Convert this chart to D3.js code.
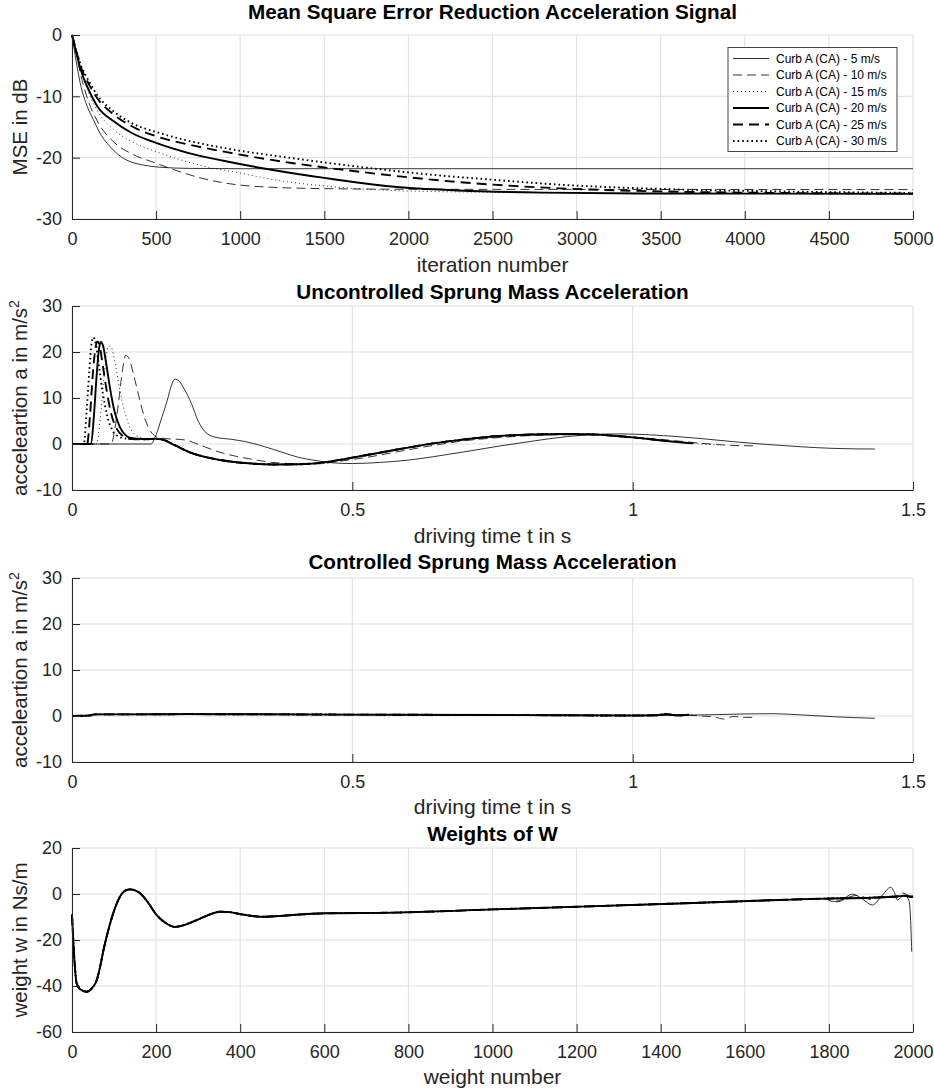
<!DOCTYPE html>
<html>
<head>
<meta charset="utf-8">
<script src="https://cdn.jsdelivr.net/npm/d3@7"></script>
<style>
  html, body { margin: 0; padding: 0; background: #fff; }
  svg { display: block; font-family: "Liberation Sans", Arial, Helvetica, sans-serif; }
</style>
</head>
<body>
<svg id="chart" width="934" height="1088"></svg>
<script>
// ---- series metadata ----
const speeds = [5, 10, 15, 20, 25, 30];
const seriesNames = speeds.map(s => `Curb A (CA) - ${s} m/s`);

// ---- MSE curves [iteration, dB] ----
const mse5  = [[0,0],[20,-3.5],[50,-8],[90,-11.6],[127,-13.8],[175,-16.4],[226,-18.2],[275,-19.5],[325,-20.4],[424,-21.2],[520,-21.55],[700,-21.75],[1000,-21.8],[5000,-21.8]];
const mse10 = [[0,0],[25,-3],[50,-6.3],[100,-11],[150,-14],[250,-17.5],[350,-19.3],[500,-20.9],[600,-21.9],[750,-23.2],[900,-24.1],[1100,-24.7],[1500,-25.05],[2000,-25.15],[5000,-25.2]];
const mse15 = [[0,0],[25,-2.8],[50,-5.5],[100,-9.5],[150,-12.3],[250,-15.5],[350,-17.3],[500,-19],[650,-20.4],[800,-21.5],[1000,-22.5],[1200,-23.6],[1500,-24.6],[1900,-25.35],[2500,-25.65],[3500,-25.8],[5000,-25.85]];
const mse20 = [[0,0],[25,-2.8],[50,-5.5],[100,-9],[150,-11.6],[250,-14.1],[350,-15.9],[500,-17.6],[700,-19.3],[900,-20.5],[1150,-21.8],[1500,-23.3],[1900,-24.7],[2300,-25.35],[2800,-25.7],[3500,-25.85],[5000,-25.9]];
const mse25 = [[0,0],[25,-2.6],[50,-5],[100,-8],[150,-10.3],[250,-13],[350,-14.8],[500,-16.5],[700,-17.9],[919,-19.1],[1315,-20.9],[1711,-22.3],[2107,-23.5],[2503,-24.4],[2899,-25],[3500,-25.5],[4200,-25.75],[5000,-25.85]];
const mse30 = [[0,0],[25,-2.5],[50,-4.7],[100,-7.5],[150,-9.8],[250,-12.5],[350,-14.3],[523,-16],[700,-17.3],[919,-18.5],[1315,-20.1],[1711,-21.5],[2107,-22.7],[2503,-23.6],[2899,-24.4],[3500,-25.1],[4200,-25.5],[5000,-25.75]];
const mseSeries = [mse5, mse10, mse15, mse20, mse25, mse30];

// ---- uncontrolled acceleration [t in s, a in m/s^2] ----
// bump responses per speed, then the common settling part
const bump5  = [[0,0],[0.141,0],[0.15,2],[0.16,5.7],[0.17,9.5],[0.178,13],[0.184,14.1],[0.19,13.8],[0.2,12],[0.213,8.8],[0.225,5],[0.237,2.7],[0.255,1.5],[0.285,1.0],[0.31,0.5],[0.344,-0.6],[0.375,-1.8],[0.404,-2.9],[0.43,-3.5],[0.466,-4.1],[0.5,-4.25],[0.55,-4.0],[0.6,-3.5],[0.645,-2.75],[0.7,-1.7],[0.763,-0.43],[0.82,0.6],[0.882,1.6],[0.93,2.05],[0.977,2.2],[1.03,2.0],[1.08,1.6],[1.12,1.2],[1.18,0.5],[1.239,-0.1],[1.3,-0.6],[1.357,-0.95],[1.432,-1.1]];
const bump10 = [[0,0],[0.07,0],[0.076,3],[0.083,9],[0.09,16],[0.096,19.3],[0.102,18.5],[0.11,15],[0.12,10],[0.13,5.5],[0.14,2.8],[0.15,1.6],[0.165,1.2],[0.2,0.9],[0.23,-0.3],[0.261,-1.7],[0.29,-2.6],[0.32,-3.3],[0.35,-3.9],[0.378,-4.2],[0.41,-4.35],[0.44,-4.3],[0.48,-3.7],[0.526,-2.9],[0.58,-1.7],[0.645,-0.3],[0.7,0.7],[0.763,1.4],[0.82,1.85],[0.882,2.0],[0.94,1.9],[1.0,1.5],[1.06,0.9],[1.11,0.3],[1.16,-0.2],[1.215,-0.4]];
const bump15 = [[0,0],[0.044,0],[0.05,5],[0.056,13],[0.061,19],[0.065,21.3],[0.07,21],[0.077,17.5],[0.085,12],[0.095,6.5],[0.105,3.2],[0.115,1.8],[0.13,1.2],[0.15,1.1]];
const bump20 = [[0,0],[0.034,0],[0.039,6],[0.044,15],[0.048,20.5],[0.051,22.2],[0.055,21.5],[0.061,17.5],[0.068,12],[0.076,7],[0.085,3.8],[0.095,2],[0.105,1.3],[0.125,1.1],[0.15,1.15]];
const bump25 = [[0,0],[0.027,0],[0.032,6],[0.037,15],[0.042,21],[0.045,22.3],[0.049,21.5],[0.055,17],[0.062,11.5],[0.07,6.5],[0.08,3.3],[0.09,1.8],[0.1,1.2],[0.125,1.0],[0.15,1.1]];
const bump30 = [[0,0],[0.021,0],[0.026,7],[0.031,16],[0.035,22],[0.038,23.2],[0.042,22],[0.048,17],[0.055,11],[0.063,6],[0.072,3],[0.082,1.7],[0.095,1.2],[0.125,1.0],[0.15,1.1]];
const settleTail = [[0.16,1.0],[0.184,-0.3],[0.21,-1.8],[0.237,-2.8],[0.27,-3.6],[0.315,-4.2],[0.36,-4.45],[0.404,-4.4],[0.442,-4.1],[0.48,-3.4],[0.526,-2.4],[0.58,-1.2],[0.645,0.14],[0.7,1.0],[0.763,1.74],[0.82,2.05],[0.882,2.17],[0.93,2.1],[0.96,1.85],[1.0,1.45],[1.06,0.65],[1.108,0.14],[1.15,-0.2]];
const bumpSeries = [bump5, bump10, bump15, bump20, bump25, bump30];
const uncontrolledEnd = [1.432, 1.215, 1.15, 1.11, 1.10, 1.09];

// ---- controlled acceleration [t in s, a in m/s^2] ----
const controlledBase = [[0,0],[0.03,0.1],[0.04,0.35],[0.1,0.35],[0.2,0.4],[0.5,0.3],[0.8,0.2],[1.0,0.1],[1.04,0.15]];
const controlledTail5  = [[1.1,0.2],[1.15,0.3],[1.2,0.45],[1.25,0.5],[1.3,0.25],[1.357,-0.15],[1.432,-0.5]];
const controlledTail10 = [[1.08,0.3],[1.12,0.0],[1.145,-0.2],[1.162,-0.65],[1.18,-0.1],[1.2,-0.3],[1.215,-0.3]];
const controlledTailRest = [[1.06,0.4],[1.08,0.1],[1.1,0.3],[1.12,0.0]];

// ---- filter weights [index, w in Ns/m] ----
const weightBase = [[0,-9],[3,-20],[7,-32],[11,-38.8],[20,-41.5],[35,-42.5],[47,-41],[59,-37.4],[67,-31.5],[75,-24.3],[86,-16],[98,-8.4],[114,-1.2],[128,1.6],[138,2.0],[150,1.6],[162,0.3],[180,-3.5],[201,-9.1],[222,-12.5],[245,-14.3],[265,-13.6],[288,-12.0],[320,-9.5],[352,-7.7],[375,-7.9],[399,-8.7],[430,-9.6],[454,-9.9],[490,-9.6],[526,-9.1],[605,-8.4],[763,-8.1],[1001,-6.7],[1207,-5.5],[1444,-4.1],[1682,-2.6],[1790,-2.0]];
const weightTail5  = [[1808,-3.3],[1830,-2.5],[1856,-0.1],[1880,-2.2],[1903,-4.8],[1925,-1],[1947,2.9],[1955,1],[1963,-2.6],[1979,-0.4],[1990,-2.6],[1994,-10],[1997,-25]];
const weightTail10 = [[1820,-3.4],[1850,-1.2],[1870,-0.6],[1900,-2.4],[1930,-1.2],[1960,-1.6],[1975,0.4],[1990,-1],[1998,-3]];
const weightTailRest = [[1900,-1.6],[1950,-1.2],[1980,-0.8],[1995,-1.2],[2000,-1]];

// ---- tick values ----
const mseXTicks = d3.range(0, 5001, 500);
const mseYTicks = [-30, -20, -10, 0];
const timeXTicks = [0, 0.5, 1, 1.5];
const accYTicks = [-10, 0, 10, 20, 30];
const weightXTicks = d3.range(0, 2001, 200);
const weightYTicks = [-60, -40, -20, 0, 20];

// ---- line styles per speed ----
const styles = [
  { w: 0.8, dash: null },
  { w: 0.8, dash: "9,5" },
  { w: 0.8, dash: "1,3" },
  { w: 1.9, dash: null },
  { w: 1.9, dash: "10,6" },
  { w: 1.9, dash: "1.6,3" }
];

const svg = d3.select("#chart");
const axisColor = "#262626";
const gridColor = "#dfdfdf";
const left = 72, right = 913;

function panel(cfg) {
  const x = d3.scaleLinear().domain(cfg.xDomain).range([left, right]);
  const y = d3.scaleLinear().domain(cfg.yDomain).range([cfg.bottom, cfg.top]);
  const g = svg.append("g");

  // grid
  g.append("g").selectAll("line.gx").data(cfg.xTicks).join("line")
    .attr("x1", d => x(d)).attr("x2", d => x(d))
    .attr("y1", cfg.top).attr("y2", cfg.bottom)
    .attr("stroke", gridColor).attr("stroke-width", 1);
  g.append("g").selectAll("line.gy").data(cfg.yTicks).join("line")
    .attr("x1", left).attr("x2", right)
    .attr("y1", d => y(d)).attr("y2", d => y(d))
    .attr("stroke", gridColor).attr("stroke-width", 1);

  // data
  const line = d3.line().x(d => x(d[0])).y(d => y(d[1])).curve(d3.curveMonotoneX);
  g.append("g").selectAll("path").data(cfg.series).join("path")
    .attr("d", d => line(d))
    .attr("fill", "none")
    .attr("stroke", "#000")
    .attr("stroke-width", (d, i) => styles[i].w)
    .attr("stroke-dasharray", (d, i) => styles[i].dash)
    .attr("stroke-linejoin", "round");

  // axes with inward ticks
  const fmt = d => String(d);
  const xa = g.append("g").attr("transform", `translate(0,${cfg.bottom})`)
    .call(d3.axisBottom(x).tickValues(cfg.xTicks).tickFormat(fmt)
      .tickSizeInner(-8).tickSizeOuter(0).tickPadding(13));
  const ya = g.append("g").attr("transform", `translate(${left},0)`)
    .call(d3.axisLeft(y).tickValues(cfg.yTicks).tickFormat(fmt)
      .tickSizeInner(-8).tickSizeOuter(0).tickPadding(10));
  [xa, ya].forEach(a => {
    a.select(".domain").attr("stroke", axisColor).attr("stroke-width", 1);
    a.selectAll(".tick line").attr("stroke", axisColor).attr("stroke-width", 1);
    a.selectAll(".tick text").attr("fill", axisColor)
      .style("font-size", "18px").style("font-family", "'Liberation Sans', Arial, sans-serif");
  });

  // title
  g.append("text").attr("x", (left + right) / 2).attr("y", cfg.titleY)
    .attr("text-anchor", "middle").attr("font-weight", "bold")
    .attr("font-size", "20.7px").attr("fill", "#000").text(cfg.title);
  // x label
  g.append("text").attr("x", (left + right) / 2).attr("y", cfg.xLabelY)
    .attr("text-anchor", "middle").attr("font-size", "21px")
    .attr("fill", axisColor).text(cfg.xLabel);
  // y label
  const yl = g.append("text")
    .attr("transform", `translate(27,${(cfg.top + cfg.bottom) / 2}) rotate(-90)`)
    .attr("text-anchor", "middle").attr("font-size", "20.5px").attr("fill", axisColor);
  yl.append("tspan").text(cfg.yLabel);
  if (cfg.yLabelSup) {
    yl.append("tspan").attr("baseline-shift", "super").attr("font-size", "14px").text(cfg.yLabelSup);
  }
  return { x, y, g };
}

// Panel 1: MSE reduction
const p1 = panel({
  xDomain: [0, 5000], yDomain: [-30, 0], top: 35, bottom: 219,
  xTicks: mseXTicks, yTicks: mseYTicks,
  series: mseSeries,
  title: "Mean Square Error Reduction Acceleration Signal",
  titleY: 19, xLabelY: 272, xLabel: "iteration number",
  yLabel: "MSE in dB"
});

// legend
const lg = p1.g.append("g");
lg.append("rect").attr("x", 728).attr("y", 47.5).attr("width", 169).attr("height", 104)
  .attr("fill", "#fff").attr("stroke", "#444").attr("stroke-width", 1);
seriesNames.forEach((name, i) => {
  const cy = 58.5 + i * 16.5;
  lg.append("line").attr("x1", 733).attr("x2", 769).attr("y1", cy).attr("y2", cy)
    .attr("stroke", "#000").attr("stroke-width", styles[i].w)
    .attr("stroke-dasharray", styles[i].dash);
  lg.append("text").attr("x", 776).attr("y", cy + 4.3).attr("font-size", "12px")
    .attr("fill", "#000").text(name);
});

// Panel 2: uncontrolled acceleration
const uncontrolled = bumpSeries.map((b, i) => {
  const lastT = b[b.length - 1][0];
  const pts = i === 0 || i === 1 ? b : b.concat(settleTail.filter(p => p[0] > lastT));
  return pts.filter(p => p[0] <= uncontrolledEnd[i]);
});
panel({
  xDomain: [0, 1.5], yDomain: [-10, 30], top: 306, bottom: 490,
  xTicks: timeXTicks, yTicks: accYTicks,
  series: uncontrolled,
  title: "Uncontrolled Sprung Mass Acceleration",
  titleY: 298.5, xLabelY: 543, xLabel: "driving time t in s",
  yLabel: "acceleartion a in m/s", yLabelSup: "2"
});

// Panel 3: controlled acceleration
const controlledTails = [controlledTail5, controlledTail10, controlledTailRest, controlledTailRest, controlledTailRest, controlledTailRest];
const controlled = controlledTails.map((tail, i) =>
  controlledBase.concat(tail).filter(p => p[0] <= uncontrolledEnd[i]));
panel({
  xDomain: [0, 1.5], yDomain: [-10, 30], top: 578, bottom: 762,
  xTicks: timeXTicks, yTicks: accYTicks,
  series: controlled,
  title: "Controlled Sprung Mass Acceleration",
  titleY: 569, xLabelY: 814, xLabel: "driving time t in s",
  yLabel: "acceleartion a in m/s", yLabelSup: "2"
});

// Panel 4: weights
const weightTails = [weightTail5, weightTail10, weightTailRest, weightTailRest, weightTailRest, weightTailRest];
const weights = weightTails.map(t => weightBase.concat(t));
panel({
  xDomain: [0, 2000], yDomain: [-60, 20], top: 848, bottom: 1032,
  xTicks: weightXTicks, yTicks: weightYTicks,
  series: weights,
  title: "Weights of W",
  titleY: 840.5, xLabelY: 1084, xLabel: "weight number",
  yLabel: "weight w in Ns/m"
});
</script>
</body>
</html>
